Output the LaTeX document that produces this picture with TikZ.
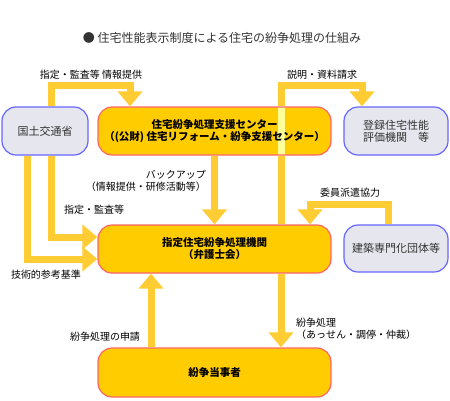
\documentclass[tikz,border=0pt]{standalone}
\usepackage{fontspec}
\setmainfont{Noto Sans CJK JP}
\usetikzlibrary{arrows.meta}
\definecolor{dpyellow}{HTML}{FFCC00}
\definecolor{dpflow}{HTML}{FFCC33}
\definecolor{dplight}{HTML}{FFFF99}
\definecolor{dpred}{HTML}{FF6666}
\definecolor{dpgray}{HTML}{E6E6EE}
\definecolor{dpblue}{HTML}{6666FF}
\definecolor{dptext}{HTML}{333333}

\begin{document}
\begin{tikzpicture}[x=1pt,y=-1pt,font=\fontsize{10}{11.5}\selectfont,
    mainbox/.style={draw=dpred,fill=dpyellow,line width=1.2pt,rounded corners=14pt,
      minimum width=233pt,minimum height=48pt,align=center,font=\fontsize{10.5}{12}\selectfont\bfseries},
    sidebox/.style={draw=dpblue,fill=dpgray,line width=1.2pt,rounded corners=14pt,
      minimum height=48pt,align=center,text=dptext,font=\fontsize{11}{12}\selectfont},
    flow/.style={draw=dpflow,line width=7pt,-{Triangle[width=24pt,length=15pt]}},
    lbl/.style={inner sep=0pt,align=left}]
  \useasboundingbox (0,0) rectangle (450,400);
  % bends
  \coordinate (c1) at (51,85);   \coordinate (c2) at (130,85);
  \coordinate (c3) at (281,85);  \coordinate (c4) at (362,85);
  \coordinate (c6) at (51,237);  \coordinate (c7) at (27,259);
  \coordinate (c8) at (388,204); \coordinate (c9) at (310,204);
  \coordinate (c10) at (151,0);
  \node[text=dptext,font=\fontsize{12}{14}\selectfont] (title) at (222,38) {● 住宅性能表示制度による住宅の紛争処理の仕組み};
  % boxes
  \node[sidebox,minimum width=86pt] (mlit) at (45,131) {国土交通省};
  \node[mainbox,path picture={\draw[dplight,line width=7pt] (path picture bounding box.north -| c3) -- (path picture bounding box.south -| c3);}]
    (center) at (214.5,131) {住宅紛争処理支援センター\\（(公財) 住宅リフォーム・紛争支援センター）};
  \node[sidebox,minimum width=104pt] (eval) at (396,131) {登録住宅性能\\評価機関\quad 等};
  \node[mainbox] (shitei) at (214.5,249) {指定住宅紛争処理機関\\（弁護士会）};
  \node[sidebox,minimum width=104pt,minimum height=47pt] (kenchiku) at (396,248.5) {建築専門化団体等};
  \node[mainbox,minimum height=49pt] (touji) at (214.5,372.5) {紛争当事者};
  % flows
  \draw[flow] (mlit.north -| c1) -- (c1) -| (center.north -| c2);
  \draw[dpflow,line width=7pt] (shitei.north -| c3) -- (center.south -| c3);
  \draw[flow] (center.north -| c3) -- (c3) -| (eval.north -| c4);
  \draw[flow] (center.south) -- (shitei.north);
  \draw[flow] (mlit.south -| c6) |- (shitei.west |- c6);
  \draw[flow] (mlit.south -| c7) |- (shitei.west |- c7);
  \draw[flow] (kenchiku.north -| c8) -- (c8) -| (shitei.north -| c9);
  \draw[flow] (touji.north -| c10) -- (shitei.south -| c10);
  \draw[flow] (shitei.south -| c3) -- (touji.north -| c3);
  % labels
  \node[lbl] (l1) at (91,75) {指定・監査等 情報提供};
  \node[lbl] (l2) at (322,75) {説明・資料請求};
  \node[lbl,anchor=east,align=right] (l3) at (206,181) {バックアップ\\（情報提供・研修活動等）};
  \node[lbl] (l4) at (94,210) {指定・監査等};
  \node[lbl] (l5) at (46,275) {技術的参考基準};
  \node[lbl] (l6) at (350,193) {委員派遣協力};
  \node[lbl] (l7) at (105,337) {紛争処理の申請};
  \node[lbl,anchor=west] (l8) at (296,329) {紛争処理\\（あっせん・調停・仲裁）};
\end{tikzpicture}
\end{document}
